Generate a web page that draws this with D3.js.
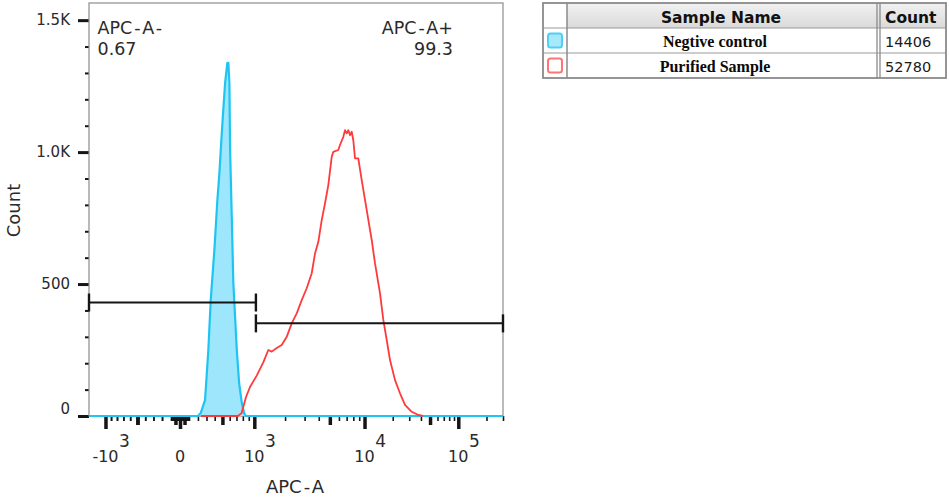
<!DOCTYPE html>
<html>
<head>
<meta charset="utf-8">
<title>APC-A histogram overlay</title>
<script src="https://cdn.jsdelivr.net/npm/d3@7/dist/d3.min.js"></script>
<style>
  html, body { margin: 0; padding: 0; background: #fff; }
  svg { display: block; }
  text { font-family: "DejaVu Sans", "Liberation Sans", sans-serif; }
</style>
</head>
<body>
<svg id="chart" width="949" height="497"></svg>
<script>
// ---------- data ----------
const sampleNames = ["Negtive control", "Purified Sample"];
const sampleCounts = [14406, 52780];

const gateNames = ["APC-A-", "APC-A+"];
const gateFreqs = ["0.67", "99.3"];
const gateCut = 1040;

const yTickValues = [0, 500, 1000, 1500];
const yTickLabels = ["0", "500", "1.0K", "1.5K"];

const xLabelValues = [-1000, 0, 1000, 10000, 100000];
const xLabelBases = ["-10", "0", "10", "10", "10"];
const xLabelExps = ["3", "", "3", "4", "5"];

// Negative control histogram: APC-A intensity and event count per bin
const negValues = [-1333, 200, 232, 283, 322, 351, 396, 434, 460, 478, 505, 536, 567,
                   581, 596, 606, 630, 653, 705, 741, 784, 821, 850, 300000];
const negCounts = [0, 0, 11, 61, 250, 439, 629, 818, 920, 1008, 1133, 1261, 1338,
                   1338, 1261, 1008, 754, 504, 250, 125, 49, 11, 0, 0];

// Purified sample histogram
const posValues = [232, 720, 781, 853, 922, 1060, 1239, 1389, 1498, 1672, 1862, 2070,
                   2299, 2551, 2828, 3132, 3468, 3708, 3965, 4246, 4539, 4849, 5193,
                   5363, 5927, 6130, 6549, 6777, 7012, 7240, 7490, 7747, 7997, 8276,
                   8835, 9456, 10555, 11937, 12951, 14641, 15876, 17258, 18713, 21153,
                   23917, 27041, 31870, 37478, 42000];
const posCounts = [0, 0, 11, 72, 110, 153, 203, 250, 244, 258, 269, 300,
                   351, 389, 439, 484, 541, 616, 660, 742, 806, 875, 982,
                   1001, 1008, 1027, 1058, 1083, 1071, 1083, 1064, 1077, 1045, 976,
                   976, 894, 780, 667, 578, 465, 364, 288, 212, 136,
                   86, 42, 16, 4, 0];

// ---------- layout ----------
const svg = d3.select("#chart");
const plot = { left: 89, top: 3, right: 503, bottom: 416 };
const plotW = plot.right - plot.left;

// biexponential-style display: arcsinh, then piecewise-linear per decade
const xMin = -1333, xMax = 300000;
const asinhT = v => Math.asinh(v / 735);
const xScale = d3.scaleLinear()
  .domain([xMin, -1000, 0, 1000, 10000, 100000, xMax].map(asinhT))
  .range([0, 0.0398, 0.2198, 0.3993, 0.6655, 0.892, 1].map(f => plot.left + f * plotW));
const X = v => xScale(asinhT(v));

const yScale = d3.scaleLinear().domain([0, 1565]).range([plot.bottom, plot.top]);

const ink = "#151515";
const labelColor = "#2a2a2a";

// text with a little extra room around each hyphen, as the FlowJo font sets it
function spacedText(sel, str, gap) {
  const parts = str.split("-");
  parts.forEach((p, i) => {
    if (i > 0) sel.append("tspan").attr("dx", gap).text("-");
    if (p) sel.append("tspan").attr("dx", i > 0 ? gap : 0).text(p);
  });
  if (str.endsWith("-")) { /* trailing hyphen already appended */ }
  return sel;
}

// ---------- y axis ----------
const yMinor = d3.range(100, 1600, 100).filter(v => v % 500 !== 0);
const gyMinor = svg.append("g").attr("transform", `translate(${plot.left},0)`)
  .call(d3.axisLeft(yScale).tickValues(yMinor).tickSize(4).tickFormat(""));
gyMinor.select(".domain").remove();
gyMinor.selectAll(".tick line").attr("stroke", ink).attr("stroke-width", 2);

const gyMajor = svg.append("g").attr("transform", `translate(${plot.left},0)`)
  .call(d3.axisLeft(yScale).tickValues(yTickValues).tickSize(11).tickPadding(8)
    .tickFormat((d, i) => yTickLabels[i]));
gyMajor.select(".domain").remove();
gyMajor.selectAll(".tick line").attr("stroke", ink).attr("stroke-width", 3);
gyMajor.selectAll(".tick text")
  .attr("fill", labelColor).style("font-size", "15px")
  .style("font-family", '"DejaVu Sans", sans-serif')
  .attr("dy", d => d === 0 ? "-0.15em" : "0.32em");

// ---------- x axis ----------
const xMinorVals = [], xMidVals = [];
[10, 100, 1000, 10000, 100000].forEach(dec => {
  for (let m = 1; m <= 9; m++) {
    const v = m * dec;
    if (v > xMax) continue;
    if (xLabelValues.includes(v)) continue;
    const bucket = (m === 5) ? xMidVals : xMinorVals;
    bucket.push(v);
    if (dec <= 100) bucket.push(-v);
  }
});
xMinorVals.push(-900, -800, -700, -600, -400, -300, -200);
xMidVals.push(-500);

function xTicks(values, size, width) {
  const g = svg.append("g").attr("transform", `translate(0,${plot.bottom})`)
    .call(d3.axisBottom(xScale).tickValues(values.map(asinhT)).tickSize(size).tickFormat(""));
  g.select(".domain").remove();
  g.selectAll(".tick line").attr("stroke", ink).attr("stroke-width", width);
  return g;
}
xTicks(xMinorVals, 5, 1.6);
xTicks(xMidVals, 9, 3.5);
xTicks(xLabelValues, 13, 3.5);

const xLab = svg.append("g");
xLabelValues.forEach((v, i) => {
  const cx = X(v);
  const base = xLab.append("text")
    .attr("x", cx).attr("y", 461.5)
    .attr("text-anchor", "middle")
    .attr("fill", labelColor)
    .style("font-size", "16px")
    .text(xLabelBases[i]);
  if (xLabelExps[i]) {
    const w = base.node().getComputedTextLength();
    xLab.append("text")
      .attr("x", cx + w / 2 + 0.5).attr("y", 447)
      .attr("fill", labelColor)
      .style("font-size", "17px")
      .text(xLabelExps[i]);
  }
});

// axis titles
svg.append("text")
  .attr("transform", `translate(20,${(plot.top + plot.bottom) / 2 + 1}) rotate(-90)`)
  .attr("text-anchor", "middle")
  .attr("fill", labelColor)
  .style("font-size", "18px")
  .text("Count");

spacedText(svg.append("text")
  .attr("x", (plot.left + plot.right) / 2 - 1).attr("y", 492.5)
  .attr("text-anchor", "middle")
  .attr("fill", labelColor)
  .style("font-size", "18px"), "APC-A", 2);

// ---------- plot frame ----------
svg.append("rect")
  .attr("x", plot.left).attr("y", plot.top)
  .attr("width", plotW).attr("height", plot.bottom - plot.top)
  .attr("fill", "none").attr("stroke", "#8c8c8c").attr("stroke-width", 1.2);

// ---------- histograms ----------
svg.append("clipPath").attr("id", "plotClip")
  .append("rect").attr("x", plot.left).attr("y", 0)
  .attr("width", plotW).attr("height", plot.bottom + 2);

const neg = negValues.map((v, i) => [v, negCounts[i]]);
const pos = posValues.map((v, i) => [v, posCounts[i]]);

const line = d3.line().x(d => X(d[0])).y(d => yScale(d[1]));
const area = d3.area().x(d => X(d[0])).y0(yScale(0)).y1(d => yScale(d[1]));

const hist = svg.append("g").attr("clip-path", "url(#plotClip)");
hist.append("path").datum(neg).attr("d", area).attr("fill", "#9de6fb");
hist.append("path").datum(neg).attr("d", line)
  .attr("fill", "none").attr("stroke", "#1ec5f2").attr("stroke-width", 2.2)
  .attr("stroke-linejoin", "round");
hist.append("path").datum(pos).attr("d", line)
  .attr("fill", "none").attr("stroke", "#ff3a3a").attr("stroke-width", 1.8)
  .attr("stroke-linejoin", "round");

// ---------- gates ----------
const gateBarCounts = [430, 351];
const gateSpans = [[xMin, gateCut], [gateCut, xMax]];
const gates = svg.append("g").attr("stroke", ink);
gateSpans.forEach((span, i) => {
  const gy = yScale(gateBarCounts[i]);
  const x0 = X(span[0]), x1 = X(span[1]);
  gates.append("line").attr("x1", x0).attr("x2", x1).attr("y1", gy).attr("y2", gy)
    .attr("stroke-width", 2);
  [x0, x1].forEach(xx => {
    gates.append("line").attr("x1", xx).attr("x2", xx)
      .attr("y1", gy - 9).attr("y2", gy + 9).attr("stroke-width", 2.4);
  });
});

// gate labels
const gateLabelX = [plot.left + 8.5, 453];
const gateAnchor = ["start", "end"];
gateNames.forEach((name, i) => {
  spacedText(svg.append("text").attr("x", gateLabelX[i]).attr("y", 34)
    .attr("text-anchor", gateAnchor[i]).attr("fill", labelColor)
    .style("font-size", "17.5px"), name, 2);
  svg.append("text").attr("x", gateLabelX[i]).attr("y", 55)
    .attr("text-anchor", gateAnchor[i]).attr("fill", labelColor)
    .style("font-size", "17.5px").text(gateFreqs[i]);
});

// ---------- sample table ----------
const tbl = { left: 543, right: 946, top: 3, rowH: 25, col1: 567, col2: 877 };
const table = svg.append("g");
const defs = svg.append("defs");
const grad = defs.append("linearGradient").attr("id", "hdrGrad")
  .attr("x1", 0).attr("y1", 0).attr("x2", 0).attr("y2", 1);
grad.append("stop").attr("offset", "0%").attr("stop-color", "#f1f1f1");
grad.append("stop").attr("offset", "100%").attr("stop-color", "#dadada");

const nRows = sampleNames.length;
const tblBottom = tbl.top + tbl.rowH * (nRows + 1);

table.append("rect").attr("x", tbl.col1).attr("y", tbl.top)
  .attr("width", tbl.right - tbl.col1).attr("height", tbl.rowH)
  .attr("fill", "url(#hdrGrad)");

// grid lines
for (let r = 1; r <= nRows; r++) {
  const yy = tbl.top + r * tbl.rowH;
  table.append("line").attr("x1", tbl.left).attr("x2", tbl.right)
    .attr("y1", yy).attr("y2", yy).attr("stroke", "#9a9a9a").attr("stroke-width", 1.2);
}
table.append("line").attr("x1", tbl.col1).attr("x2", tbl.col1)
  .attr("y1", tbl.top).attr("y2", tblBottom).attr("stroke", "#8a8a8a").attr("stroke-width", 1.5);
[tbl.col2, tbl.col2 + 3].forEach(xx => {
  table.append("line").attr("x1", xx).attr("x2", xx)
    .attr("y1", tbl.top).attr("y2", tblBottom).attr("stroke", "#8a8a8a").attr("stroke-width", 1.3);
});
table.append("rect").attr("x", tbl.left).attr("y", tbl.top)
  .attr("width", tbl.right - tbl.left).attr("height", tblBottom - tbl.top)
  .attr("fill", "none").attr("stroke", "#8a8a8a").attr("stroke-width", 1.8);

// header
table.append("text").attr("x", 721).attr("y", 22.5).attr("text-anchor", "middle")
  .attr("fill", "#111").style("font-size", "15.5px").style("font-weight", "bold")
  .text("Sample Name");
table.append("text").attr("x", 885).attr("y", 22.5)
  .attr("fill", "#111").style("font-size", "15.5px").style("font-weight", "bold")
  .text("Count");

// rows
const swatchFill = ["#a6e9fb", "#ffffff"];
const swatchStroke = ["#4fcff5", "#ff7474"];
sampleNames.forEach((name, i) => {
  const top = tbl.top + (i + 1) * tbl.rowH;
  table.append("rect").attr("x", 548).attr("y", top + 5.5)
    .attr("width", 14).attr("height", 14).attr("rx", 2.5)
    .attr("fill", swatchFill[i]).attr("stroke", swatchStroke[i]).attr("stroke-width", 2);
  table.append("text").attr("x", 715).attr("y", top + 18.5).attr("text-anchor", "middle")
    .attr("fill", "#0a0a0a")
    .style("font-family", '"Liberation Serif", "DejaVu Serif", serif')
    .style("font-size", "16px").style("font-weight", "bold")
    .text(name);
  table.append("text").attr("x", 885).attr("y", top + 18.5)
    .attr("fill", "#1a1a1a").style("font-size", "14.5px")
    .text(sampleCounts[i]);
});
</script>
</body>
</html>
